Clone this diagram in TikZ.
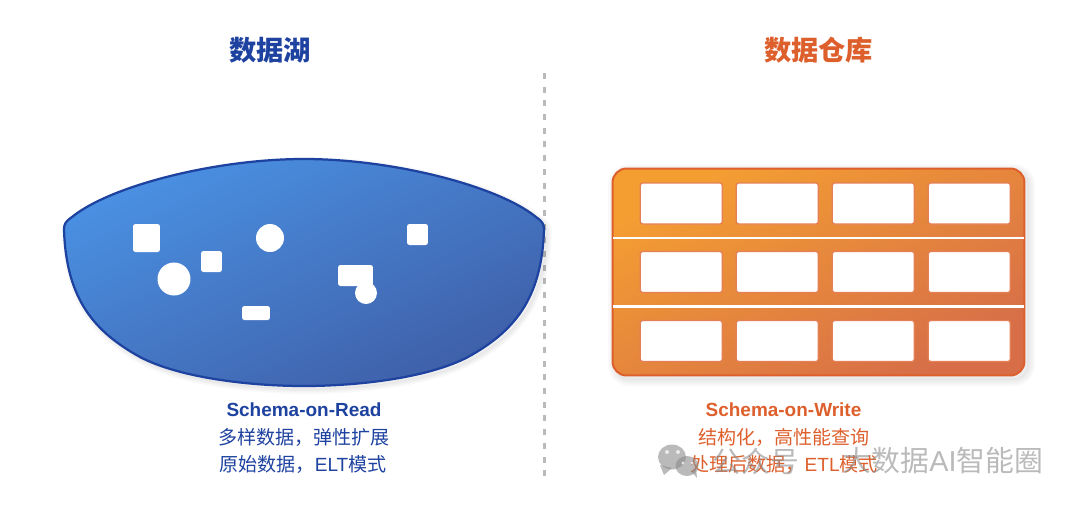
\documentclass[tikz,border=0pt]{standalone}
\usepackage{fontspec}
\setmainfont{Liberation Sans}
\newfontfamily\cjk{Noto Sans CJK SC}
\usetikzlibrary{positioning,calc}
\definecolor{lakeblue}{HTML}{1E429F}
\definecolor{lakelight}{HTML}{4A90E2}
\definecolor{lakedark}{HTML}{3F5FA8}
\definecolor{whorange}{HTML}{DD5F2C}
\definecolor{whlight}{HTML}{F49E32}
\definecolor{whdark}{HTML}{D76E48}
\definecolor{markgray}{HTML}{8C8C8C}
\tikzstyle{titletext}=[inner sep=0pt, font={\cjk\bfseries\fontsize{15.5}{18}\selectfont}]
\tikzstyle{headtext}=[inner sep=0pt, font={\bfseries\fontsize{10.8}{13}\selectfont}]
\tikzstyle{bodytext}=[inner sep=0pt, font={\cjk\fontsize{10.85}{13}\selectfont}]
\tikzstyle{bit}=[fill=white, inner sep=0pt, rounded corners=0.05cm]
\tikzstyle{dot}=[fill=white, inner sep=0pt, circle]
\tikzstyle{whbox}=[draw=whorange, line width=0.04cm, rounded corners=0.28cm, minimum width=8.24cm, minimum height=4.14cm,
shading=axis, left color=whlight, right color=whdark, shading angle=27, inner sep=0pt]
\tikzstyle{whcell}=[draw=whorange!80, fill=white, line width=0.025cm, rounded corners=0.05cm, minimum width=1.64cm, minimum height=0.82cm, inner sep=0pt]
\tikzstyle{rowline}=[draw=white, line width=0.055cm]
\tikzstyle{divider}=[draw=black!27, line width=0.045cm, dash pattern=on 0.12cm off 0.154cm]
\tikzstyle{wmark}=[inner sep=0pt, text=markgray, opacity=0.6, font={\cjk\fontsize{16.4}{19}\selectfont}]
\newcommand{\whcellat}[2]{node (c#1)[whcell]{#2}}
\newcommand{\lakepath}{(64,229) .. controls (64,224) and (66,221) .. (72,217) .. controls (110,186) and (215,159) .. (304,159)
  .. controls (393,159) and (498,186) .. (536,217) .. controls (542,221) and (544,224) .. (544,229)
  .. controls (542,300) and (513,332) .. (468,357) .. controls (428,378) and (358,386) .. (304,386)
  .. controls (250,386) and (180,378) .. (140,357) .. controls (95,332) and (66,300) .. (64,229) -- cycle}
\begin{document}
\begin{tikzpicture}[x=0.02cm,y=-0.02cm]
	\useasboundingbox (0,0) rectangle (1080,505);

	% Draw titles and divider
	\node (laketitle)[titletext,text=lakeblue] at (270,50) {数据湖};
	\node (whtitle)[titletext,text=whorange] at (818.5,50) {数据仓库};
	\coordinate (divtop) at (544.5,73);
	\coordinate (divbot) at (544.5,478);
	\path [divider] (divtop) -- (divbot);

	% Draw the lake
	\foreach \w in {10,7,4,1}
		\draw [black,opacity=0.025,line width=\w*0.02cm,line join=round] [shift={(3,3)}] \lakepath;
	\shade [shading=axis,left color=lakelight,right color=lakedark,shading angle=25] \lakepath;
	\draw [lakeblue,line width=0.045cm,line join=round] \lakepath;

	\node (b1)[bit,minimum width=0.54cm,minimum height=0.56cm] at (146.5,238) {};
	\node (b2)[bit,minimum width=0.42cm,minimum height=0.42cm] at (211.5,261.5) {};
	\node (b3)[bit,minimum width=0.42cm,minimum height=0.42cm] at (417.5,234.5) {};
	\node (b4)[bit,minimum width=0.70cm,minimum height=0.42cm] at (355.5,275.5) {};
	\node (b5)[bit,minimum width=0.56cm,minimum height=0.28cm] at (256,313) {};
	\node (d1)[dot,minimum size=0.56cm] at (270,238) {};
	\node (d2)[dot,minimum size=0.66cm] at (174,279) {};
	\node (d3)[dot,minimum size=0.44cm] at (366,293) {};

	% Draw the warehouse
	\foreach \w in {14,10,6,2}
		\draw [black,opacity=0.025,line width=\w*0.02cm,line join=round,rounded corners=0.28cm] (615,171) rectangle (1028,379);
	\node (wh)[whbox] at (818.5,272) {};
	\foreach \r/\y in {1/203.5,2/272,3/341}
		\foreach \c/\x in {1/681.3,2/777.3,3/873.3,4/969.3}
			\path (\x,\y) \whcellat{\r\c}{};
	\coordinate (r1l) at (613,238);
	\coordinate (r1r) at (1024,238);
	\coordinate (r2l) at (613,306.3);
	\coordinate (r2r) at (1024,306.3);
	\path [rowline] (r1l) -- (r1r);
	\path [rowline] (r2l) -- (r2r);

	% Draw captions
	\node (lakehead)[headtext,text=lakeblue] at (304,410) {Schema-on-Read};
	\node (lakeone)[bodytext,text=lakeblue] at (304,437) {多样数据，弹性扩展};
	\node (laketwo)[bodytext,text=lakeblue] at (303,464) {原始数据，{\rmfamily ELT}模式};
	\node (whhead)[headtext,text=whorange] at (783.5,410) {Schema-on-Write};
	\node (whone)[bodytext,text=whorange] at (784,437) {结构化，高性能查询};
	\node (whtwo)[bodytext,text=whorange] at (784,464) {处理后数据，{\rmfamily ETL}模式};

	% Draw watermark
	\fill [markgray,opacity=0.6] (672,457) ellipse (14 and 12.5);
	\fill [markgray,opacity=0.6] (660,465) -- (664,475) -- (672,468) -- cycle;
	\fill [markgray,opacity=0.6] (687,466) ellipse (11.5 and 10);
	\fill [markgray,opacity=0.6] (692,472) -- (697,478) -- (696,468) -- cycle;
	\fill [white,opacity=0.7] (667,452) circle (2) (678,452) circle (2) (683,463) circle (1.7) (692,463) circle (1.7);
	\node (markone)[wmark] at (756,461) {公众号};
	\node (marktwo)[wmark] at (943,461) {大数据{\rmfamily AI}智能圈};
\end{tikzpicture}
\end{document}
